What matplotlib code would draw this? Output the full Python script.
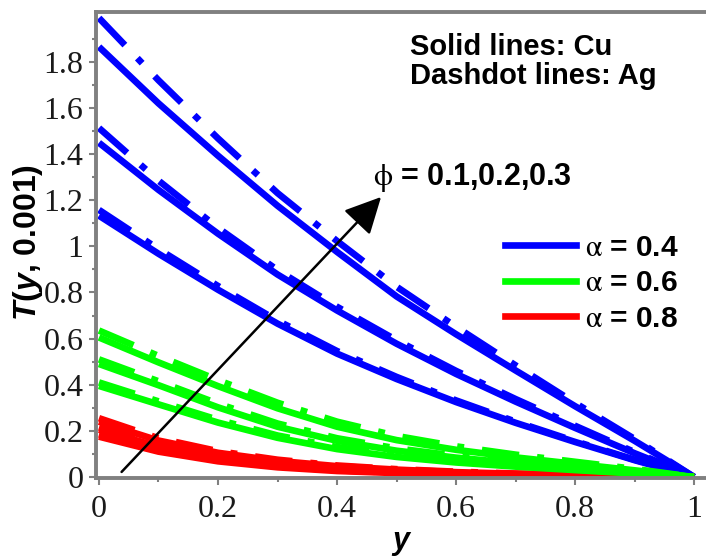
import matplotlib
matplotlib.use("Agg")
import matplotlib.pyplot as plt

# y positions where the curves were read
y_pts = [0.0, 0.1, 0.2, 0.3, 0.4, 0.5, 0.6, 0.7, 0.8, 0.9, 1.0]

# alpha = 0.4 (blue), phi = 0.1 / 0.2 / 0.3
t04_cu_p1 = [1.133, 0.968, 0.812, 0.665, 0.535, 0.425, 0.325, 0.235, 0.152, 0.073, 0.0]
t04_ag_p1 = [1.158, 0.988, 0.828, 0.678, 0.546, 0.434, 0.332, 0.240, 0.155, 0.075, 0.0]
t04_cu_p2 = [1.449, 1.245, 1.055, 0.878, 0.722, 0.578, 0.447, 0.327, 0.213, 0.103, 0.0]
t04_ag_p2 = [1.513, 1.285, 1.080, 0.897, 0.738, 0.593, 0.460, 0.338, 0.222, 0.108, 0.0]
t04_cu_p3 = [1.865, 1.620, 1.393, 1.176, 0.976, 0.783, 0.619, 0.462, 0.307, 0.157, 0.0]
t04_ag_p3 = [1.990, 1.720, 1.468, 1.231, 1.023, 0.825, 0.651, 0.484, 0.321, 0.165, 0.0]

# alpha = 0.6 (green)
t06_cu_p1 = [0.395, 0.315, 0.236, 0.170, 0.121, 0.087, 0.063, 0.045, 0.030, 0.015, 0.0]
t06_ag_p1 = [0.410, 0.328, 0.248, 0.180, 0.130, 0.094, 0.068, 0.049, 0.033, 0.017, 0.0]
t06_cu_p2 = [0.490, 0.398, 0.302, 0.218, 0.157, 0.114, 0.084, 0.060, 0.041, 0.021, 0.0]
t06_ag_p2 = [0.510, 0.415, 0.318, 0.232, 0.168, 0.124, 0.092, 0.067, 0.046, 0.025, 0.0]
t06_cu_p3 = [0.605, 0.497, 0.394, 0.298, 0.218, 0.160, 0.118, 0.085, 0.057, 0.029, 0.0]
t06_ag_p3 = [0.635, 0.525, 0.420, 0.322, 0.240, 0.178, 0.133, 0.097, 0.066, 0.035, 0.0]

# alpha = 0.8 (red)
t08_cu_p1 = [0.175, 0.110, 0.068, 0.042, 0.026, 0.017, 0.011, 0.007, 0.004, 0.002, 0.0]
t08_ag_p1 = [0.185, 0.117, 0.073, 0.046, 0.029, 0.019, 0.012, 0.008, 0.005, 0.002, 0.0]
t08_cu_p2 = [0.205, 0.132, 0.085, 0.055, 0.036, 0.024, 0.016, 0.010, 0.006, 0.003, 0.0]
t08_ag_p2 = [0.215, 0.140, 0.091, 0.059, 0.039, 0.026, 0.017, 0.011, 0.007, 0.003, 0.0]
t08_cu_p3 = [0.240, 0.158, 0.105, 0.070, 0.047, 0.032, 0.021, 0.014, 0.009, 0.004, 0.0]
t08_ag_p3 = [0.255, 0.168, 0.112, 0.075, 0.050, 0.034, 0.023, 0.015, 0.010, 0.005, 0.0]

alpha_labels = ["0.4", "0.6", "0.8"]
alpha_colors = ["#0000ff", "#00ff00", "#ff0000"]
phi_text = "0.1,0.2,0.3"
arrow_start = (0.038, 0.022)
arrow_end = (0.474, 1.214)

xticks = [0, 0.2, 0.4, 0.6, 0.8, 1.0]
xticklabels = ["0", "0.2", "0.4", "0.6", "0.8", "1"]
yticks = [0, 0.2, 0.4, 0.6, 0.8, 1.0, 1.2, 1.4, 1.6, 1.8]
yticklabels = ["0", "0.2", "0.4", "0.6", "0.8", "1", "1.2", "1.4", "1.6", "1.8"]

plt.rcParams["lines.scale_dashes"] = False
plt.rcParams["mathtext.fontset"] = "custom"
plt.rcParams["mathtext.it"] = "Liberation Sans:italic:bold"
plt.rcParams["mathtext.rm"] = "Liberation Sans:bold"
plt.rcParams["mathtext.bf"] = "Liberation Sans:bold"

SANS = "Liberation Sans"
SERIF = "Liberation Serif"
GREY = "#808080"
LW = 4.8
DASHDOT = (0, (27, 13, 5, 13))

fig = plt.figure(figsize=(7.06, 5.58), dpi=100)
ax = fig.add_axes([96 / 706, 1 - 478 / 558, 610 / 706, 466 / 558])

groups = [
    (alpha_colors[0], [t04_cu_p1, t04_cu_p2, t04_cu_p3], [t04_ag_p1, t04_ag_p2, t04_ag_p3]),
    (alpha_colors[2], [t08_cu_p1, t08_cu_p2, t08_cu_p3], [t08_ag_p1, t08_ag_p2, t08_ag_p3]),
    (alpha_colors[1], [t06_cu_p1, t06_cu_p2, t06_cu_p3], [t06_ag_p1, t06_ag_p2, t06_ag_p3]),
]
for col, cu_list, ag_list in groups:
    for cu, ag in zip(cu_list, ag_list):
        ax.plot(y_pts, cu, color=col, lw=LW, solid_capstyle="butt")
        ax.plot(y_pts, ag, color=col, lw=LW, linestyle=DASHDOT, dash_capstyle="butt")

ax.set_xlim(-0.005, 1.02)
ax.set_ylim(-0.0043, 2.016)

ax.set_xticks(xticks)
ax.set_xticklabels(xticklabels)
ax.set_yticks(yticks)
ax.set_yticklabels(yticklabels)
ax.set_xticks([0.1, 0.3, 0.5, 0.7, 0.9], minor=True)
ax.set_yticks([0.1 + 0.2 * i for i in range(10)], minor=True)
ax.tick_params(which="both", direction="out", color=GREY, width=1.5, labelcolor="#1a1a1a")
ax.tick_params(which="major", length=5)
ax.tick_params(which="minor", length=3)
ax.tick_params(axis="x", pad=7)
ax.tick_params(axis="y", pad=4)
for lab in ax.get_xticklabels() + ax.get_yticklabels():
    lab.set_fontfamily(SERIF)
    lab.set_fontsize(23)

for side in ["left", "bottom", "top"]:
    ax.spines[side].set_color(GREY)
    ax.spines[side].set_linewidth(2.8)
ax.spines["right"].set_visible(False)

# arrow showing increasing phi
ax.annotate("", xy=arrow_end, xytext=arrow_start,
            arrowprops=dict(arrowstyle="-|>,head_length=0.8,head_width=0.4",
                            mutation_scale=28, lw=1.8, color="black",
                            shrinkA=0, shrinkB=0))
t = ax.text(0.461, 1.266, r"$\mathrm{\phi}$ = " + phi_text, fontsize=22,
            fontfamily=SANS, fontweight="bold", ha="left", va="baseline")
t.set_math_fontfamily("stix")

ax.text(0.515, 0.908, "Solid lines: Cu", transform=ax.transAxes, fontsize=21,
        fontfamily=SANS, fontweight="bold", va="baseline")
ax.text(0.515, 0.845, "Dashdot lines: Ag", transform=ax.transAxes, fontsize=21,
        fontfamily=SANS, fontweight="bold", va="baseline")

# legend
handles = [plt.Line2D([], [], color=c, lw=LW) for c in alpha_colors]
labels = [r"$\mathrm{\alpha}$ = " + a for a in alpha_labels]
leg = ax.legend(handles, labels, loc="center left", bbox_to_anchor=(0.67, 0.418),
                frameon=False, borderpad=0, borderaxespad=0, handlelength=2.4,
                handletextpad=0.3, labelspacing=0.25,
                prop={"family": SANS, "weight": "bold", "size": 21.5})
for txt in leg.get_texts():
    txt.set_math_fontfamily("stix")

fig.text(28 / 706, 1 - 243 / 558, "$T(y$, 0.001)", rotation=90, ha="center", va="center",
         fontsize=23, fontfamily=SANS, fontweight="bold")
fig.text(401 / 706, 1 - 541 / 558, "y", ha="center", va="center", fontsize=22,
         fontfamily=SANS, fontweight="bold", fontstyle="italic")

fig.savefig("out.png", dpi=100)
